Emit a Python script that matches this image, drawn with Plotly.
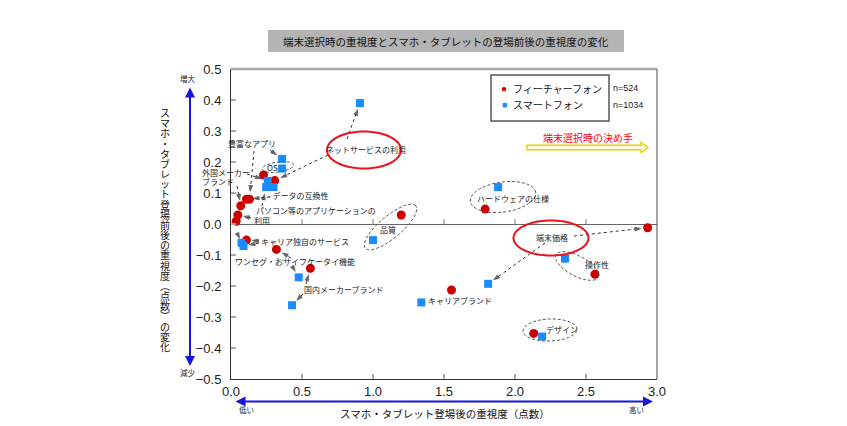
import math
import plotly.graph_objects as go

# ---------------- data ----------------
categories = ["ネットサービスの利用", "豊富なアプリ", "OS", "外国メーカーブランド", "データの互換性",
              "パソコン等のアプリケーションの利用", "プリインストールアプリ", "キャリア独自のサービス",
              "ワンセグ・おサイフケータイ機能", "国内メーカーブランド", "品質", "キャリアブランド",
              "ハードウェアの仕様", "端末価格", "操作性", "デザイン"]
feature_x = [0.308, 0.130, 0.229, 0.069, 0.109, 0.048, 0.036, 0.109, 0.320, 0.559, 1.199, 1.553, 1.790, 2.934, 2.563, 2.132]
feature_y = [0.140, 0.080, 0.158, 0.059, 0.080, 0.029, 0.009, -0.052, -0.082, -0.143, 0.029, -0.213, 0.048, -0.012, -0.162, -0.353]
smart_x = [0.908, 0.360, 0.360, 0.259, 0.299, 0.247, 0.074, 0.088, 0.477, 0.430, 1.000, 1.340, 1.881, 1.811, 2.352, 2.191]
smart_y = [0.390, 0.210, 0.179, 0.139, 0.119, 0.119, -0.061, -0.071, -0.172, -0.262, -0.052, -0.253, 0.119, -0.193, -0.112, -0.363]
series_names = ["フィーチャーフォン", "スマートフォン"]
series_n = ["n=524", "n=1034"]
x_ticks = [0.0, 0.5, 1.0, 1.5, 2.0, 2.5, 3.0]
y_ticks = [0.5, 0.4, 0.3, 0.2, 0.1, 0.0, -0.1, -0.2, -0.3, -0.4, -0.5]

title_text = "端末選択時の重視度とスマホ・タブレットの登場前後の重視度の変化"
x_title = "スマホ・タブレット登場後の重視度（点数）"
y_title = "スマホ・タブレット登場前後の重視度︵点数︶の変化"

# ---------------- geometry helpers (reference-page pixels) ----------------
PAGE_OFF = 8                      # html body margin
W_FIG, H_FIG = 847 - PAGE_OFF, 426 - PAGE_OFF
L, T, W, H = 231, 69, 426, 310    # plot area in page pixels
XR, YR = (0.0, 3.0), (-0.5, 0.5)

def dx(px):
    return XR[0] + (px - L) / W * (XR[1] - XR[0])

def dy(py):
    return YR[1] - (py - T) / H * (YR[1] - YR[0])

def tox(x):
    return L + (x - XR[0]) / (XR[1] - XR[0]) * W

def toy(y):
    return T + (YR[1] - y) / (YR[1] - YR[0]) * H

def xp(px):
    return (px - L) / W

def yp(py):
    return (T + H - py) / H

JP = "Noto Sans CJK JP"
AR = "Liberation Sans"
RED = "#cc0000"
BLUE = "#1a8cff"

fig = go.Figure()

# ---------------- shapes ----------------
shapes = []

def ellipse_path(cx, cy, a, b, ang):
    th = math.radians(ang)
    pts = []
    for i in range(61):
        t = 2 * math.pi * i / 60
        px = cx + a * math.cos(t) * math.cos(th) - b * math.sin(t) * math.sin(th)
        py = cy - (a * math.cos(t) * math.sin(th) + b * math.sin(t) * math.cos(th))
        pts.append((dx(px), dy(py)))
    return "M " + " L ".join(f"{x:.5f},{y:.5f}" for x, y in pts) + " Z"

# dashed gray ellipses
for cx, cy, a, b, ang in [(390.5, 227, 33, 11, 40), (503, 197, 33, 15, 8),
                          (577, 266, 24, 10, -28), (550, 330, 27, 11, 2),
                          (278, 167, 16, 5, 8)]:
    shapes.append(dict(type="path", xref="x", yref="y", path=ellipse_path(cx, cy, a, b, ang),
                       line=dict(color="#555", width=1, dash="3px,2px")))
# red ellipses
for cx, cy, a, b in [(364, 150, 37, 18.5), (551, 238, 37.5, 17.5)]:
    shapes.append(dict(type="path", xref="x", yref="y", path=ellipse_path(cx, cy, a, b, 0),
                       line=dict(color="#e8141c", width=2)))

# yellow hollow arrow
ax0, ax1, ay, hs, hh = 527, 648, 147.5, 2.2, 5
pts = [(ax0, ay - hs), (ax1 - 7, ay - hs), (ax1 - 7, ay - hh), (ax1, ay), (ax1 - 7, ay + hh),
       (ax1 - 7, ay + hs), (ax0, ay + hs)]
shapes.append(dict(type="path", xref="x", yref="y",
                   path="M " + " L ".join(f"{dx(a):.5f},{dy(b):.5f}" for a, b in pts) + " Z",
                   fillcolor="#fffde0", line=dict(color="#f2cf00", width=1.5)))

# ticks on zero line
for v in x_ticks[1:-1]:
    shapes.append(dict(type="line", xref="x", yref="y", x0=v, x1=v, y0=0, y1=dy(toy(0) - 5),
                       line=dict(color="#aaa", width=1.5)))

# plot frame: top gray, right dark
shapes.append(dict(type="line", xref="paper", yref="paper", x0=0, x1=1, y0=1, y1=1,
                   line=dict(color="#aaa", width=2.5)))
shapes.append(dict(type="line", xref="paper", yref="paper", x0=1, x1=1, y0=0, y1=1,
                   line=dict(color="#666", width=1.2)))

# title box
shapes.append(dict(type="rect", xref="paper", yref="paper", x0=xp(268), x1=xp(624), y0=yp(52), y1=yp(30),
                   fillcolor="#b4b4b4", line=dict(width=0), layer="below"))
# legend box
shapes.append(dict(type="rect", xref="paper", yref="paper", x0=xp(491), x1=xp(609), y0=yp(121), y1=yp(75),
                   fillcolor="white", line=dict(color="#555", width=1.5)))

fig.update_layout(shapes=shapes)

# ---------------- dotted leader arrows ----------------
arrows = [
    (347, 139, "s", 0, 7), (328, 155, "f", 0, 7),
    (270, 150, "s", 1, 7), (254, 151, "f", 1, 8),
    (247, 174, "s", 3, 7), (237, 186, "f", 3, 6),
    (270, 197, "f", 4, 7), (262, 206, "s", 5, 7),
    (251, 218, "f", 5, 6), (237, 233, "s", 6, 5),
    (259, 241, "f", 7, 6), (259, 243, "s", 7, 6),
    (291, 258, "f", 8, 7), (292, 266, "s", 8, 7),
    (306, 284, "f", 9, 7), (303, 294, "s", 9, 7),
    (574, 236, "f", 13, 7), (545, 243, "s", 13, 7),
]
for tx, ty, ser, ci, sh in arrows:
    if ser == "f":
        hx, hy = tox(feature_x[ci]), toy(feature_y[ci])
    else:
        hx, hy = tox(smart_x[ci]), toy(smart_y[ci])
    d = math.hypot(hx - tx, hy - ty)
    ex, ey = hx - (hx - tx) / d * sh, hy - (hy - ty) / d * sh
    fig.add_trace(go.Scatter(
        x=[dx(tx), dx(ex)], y=[dy(ty), dy(ey)], mode="lines+markers",
        line=dict(color="#333", width=1, dash="dot"),
        marker=dict(symbol=["circle", "arrow"], size=[0, 6], color="#222", angleref="previous"),
        hoverinfo="skip", showlegend=False, cliponaxis=False))

# ---------------- data markers ----------------
fig.add_trace(go.Scatter(x=feature_x, y=feature_y, mode="markers", name=series_names[0],
                         text=categories, marker=dict(symbol="circle", size=9, color=RED),
                         showlegend=False, cliponaxis=False))
fig.add_trace(go.Scatter(x=smart_x, y=smart_y, mode="markers", name=series_names[1],
                         text=categories, marker=dict(symbol="square", size=8, color=BLUE),
                         showlegend=False, cliponaxis=False))

# ---------------- annotations ----------------
ann = []

def label(text, px, py, anchor="center", size=8, color="#222", family=JP, ref="data"):
    d = dict(text=text, xanchor=anchor, yanchor="middle", showarrow=False,
             font=dict(size=size, color=color, family=family))
    if ref == "data":
        d.update(x=dx(px), y=dy(py), xref="x", yref="y")
    else:
        d.update(x=xp(px), y=yp(py), xref="paper", yref="paper")
    ann.append(d)

label(categories[0], 366, 149)
label(categories[1], 252, 143)
label(categories[2], 272, 167)
label("外国メーカー", 200, 172, "left", ref="paper")
label("ブランド", 200, 181, "left", ref="paper")
label("- " + categories[4], 266, 195, "left")
label("パソコン等のアプリケーションの", 254, 210, "left")
label("利用", 252, 220, "left")
label("▲" + categories[6], 230, 229, "left")
label(categories[7], 259, 241, "left")
label(categories[8], 233, 261, "left")
label(categories[9], 302, 289, "left")
label(categories[11], 426, 300, "left")
label(categories[10], 388, 229)
label(categories[12], 513, 198)
label(categories[13], 552, 237)
label(categories[14], 597, 264)
label(categories[15], 562, 329)

# title
label(title_text, 446, 41, size=10.5, color="#111", ref="paper")
# legend contents
label("●", 504, 88, size=10, color=RED, family=AR, ref="paper")
label("■", 504, 105, size=9, color=BLUE, family=AR, ref="paper")
label(series_names[0], 511, 88, "left", size=10, color="#111", ref="paper")
label(series_names[1], 511, 105, "left", size=10, color="#111", ref="paper")
label(series_n[0], 611, 88, "left", size=9, color="#222", family=AR, ref="paper")
label(series_n[1], 611, 105, "left", size=9, color="#222", family=AR, ref="paper")
# decision factor
label("端末選択時の決め手", 588, 137, size=10, color="#ff0000", ref="paper")

# axis arrows
ann.append(dict(x=xp(190), y=yp(366), xref="paper", yref="paper", ax=0, ay=86 - 366,
                axref="pixel", ayref="pixel", showarrow=True, arrowhead=2, arrowside="end+start",
                arrowsize=1, arrowwidth=2, arrowcolor="#1515e0", text=""))
ann.append(dict(x=xp(653), y=yp(401.5), xref="paper", yref="paper", ax=234 - 653, ay=0,
                axref="pixel", ayref="pixel", showarrow=True, arrowhead=2, arrowside="end+start",
                arrowsize=1, arrowwidth=2, arrowcolor="#1515e0", text=""))
label("増大", 188, 78, size=7.5, ref="paper")
label("減少", 188, 372, size=7.5, ref="paper")
label("低い", 246, 409, size=7.5, ref="paper")
label("高い", 636, 409, size=7.5, ref="paper")
label(x_title, 445, 413, size=10.5, color="#111", ref="paper")

# vertical y title: one character per line, line pitch set by the small base font
n = len(y_title)
pitch = (347 - 113) / (n - 1)
vert = "<br>".join(f"<span style='font-size:10px'>{ch}</span>" for ch in y_title)
label(vert, 165, (113 + 347) / 2, size=pitch / 1.3, color="#111", ref="paper")

fig.update_layout(annotations=ann)

# ---------------- axes / layout ----------------
fig.update_xaxes(range=list(XR), tickvals=x_ticks, tickformat=".1f", ticks="inside", ticklen=5,
                 tickwidth=1.5, tickcolor="#aaa", showgrid=False, zeroline=False, showline=True,
                 linecolor="#333", linewidth=1, tickfont=dict(family=AR, size=13, color="#222"),
                 ticklabelstandoff=0)
fig.update_yaxes(range=list(YR), tickvals=y_ticks, tickformat=".1f", ticks="inside", ticklen=5,
                 tickwidth=1.5, tickcolor="#aaa", showgrid=False, zeroline=True, zerolinecolor="#666",
                 zerolinewidth=1, showline=True, linecolor="#333", linewidth=1,
                 tickfont=dict(family=AR, size=13, color="#222"), ticklabelstandoff=6)
ml, mt = L - PAGE_OFF, T - PAGE_OFF
fig.update_layout(width=W_FIG, height=H_FIG,
                  margin=dict(l=ml, r=W_FIG - ml - W, t=mt, b=H_FIG - mt - H),
                  plot_bgcolor="white", paper_bgcolor="white", showlegend=False,
                  font=dict(family=JP))

fig.write_html("out.html")
